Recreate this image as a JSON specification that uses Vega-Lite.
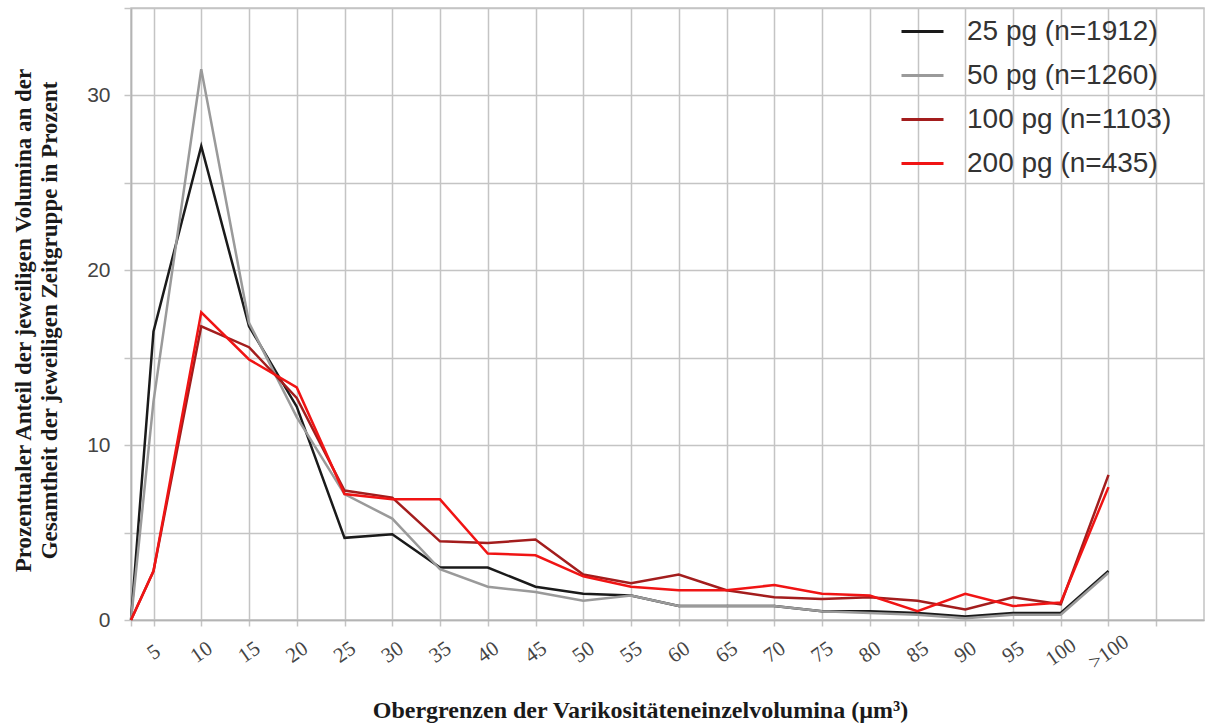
{
  "$schema": "https://vega.github.io/schema/vega-lite/v6.json",
  "width": 1073,
  "height": 612,
  "autosize": {"type": "none"},
  "padding": {"left": 131, "top": 8, "right": 2, "bottom": 106},
  "background": "white",
  "config": {"view": {"stroke": "#c4c4c4", "strokeWidth": 1.5}},
  "data": {
    "values": [
      {"klasse": "0", "grenze": 0, "25 pg (n=1912)": 0, "50 pg (n=1260)": 0, "100 pg (n=1103)": 0, "200 pg (n=435)": 0},
      {"klasse": "5", "grenze": 5, "25 pg (n=1912)": 16.5, "50 pg (n=1260)": 12.5, "100 pg (n=1103)": 2.8, "200 pg (n=435)": 2.8},
      {"klasse": "10", "grenze": 10, "25 pg (n=1912)": 27.1, "50 pg (n=1260)": 31.5, "100 pg (n=1103)": 16.8, "200 pg (n=435)": 17.6},
      {"klasse": "15", "grenze": 15, "25 pg (n=1912)": 16.8, "50 pg (n=1260)": 17.0, "100 pg (n=1103)": 15.6, "200 pg (n=435)": 14.9},
      {"klasse": "20", "grenze": 20, "25 pg (n=1912)": 12.2, "50 pg (n=1260)": 11.6, "100 pg (n=1103)": 12.7, "200 pg (n=435)": 13.3},
      {"klasse": "25", "grenze": 25, "25 pg (n=1912)": 4.7, "50 pg (n=1260)": 7.2, "100 pg (n=1103)": 7.4, "200 pg (n=435)": 7.2},
      {"klasse": "30", "grenze": 30, "25 pg (n=1912)": 4.9, "50 pg (n=1260)": 5.8, "100 pg (n=1103)": 7.0, "200 pg (n=435)": 6.9},
      {"klasse": "35", "grenze": 35, "25 pg (n=1912)": 3.0, "50 pg (n=1260)": 2.9, "100 pg (n=1103)": 4.5, "200 pg (n=435)": 6.9},
      {"klasse": "40", "grenze": 40, "25 pg (n=1912)": 3.0, "50 pg (n=1260)": 1.9, "100 pg (n=1103)": 4.4, "200 pg (n=435)": 3.8},
      {"klasse": "45", "grenze": 45, "25 pg (n=1912)": 1.9, "50 pg (n=1260)": 1.6, "100 pg (n=1103)": 4.6, "200 pg (n=435)": 3.7},
      {"klasse": "50", "grenze": 50, "25 pg (n=1912)": 1.5, "50 pg (n=1260)": 1.1, "100 pg (n=1103)": 2.6, "200 pg (n=435)": 2.5},
      {"klasse": "55", "grenze": 55, "25 pg (n=1912)": 1.4, "50 pg (n=1260)": 1.4, "100 pg (n=1103)": 2.1, "200 pg (n=435)": 1.9},
      {"klasse": "60", "grenze": 60, "25 pg (n=1912)": 0.8, "50 pg (n=1260)": 0.8, "100 pg (n=1103)": 2.6, "200 pg (n=435)": 1.7},
      {"klasse": "65", "grenze": 65, "25 pg (n=1912)": 0.8, "50 pg (n=1260)": 0.8, "100 pg (n=1103)": 1.7, "200 pg (n=435)": 1.7},
      {"klasse": "70", "grenze": 70, "25 pg (n=1912)": 0.8, "50 pg (n=1260)": 0.8, "100 pg (n=1103)": 1.3, "200 pg (n=435)": 2.0},
      {"klasse": "75", "grenze": 75, "25 pg (n=1912)": 0.5, "50 pg (n=1260)": 0.5, "100 pg (n=1103)": 1.2, "200 pg (n=435)": 1.5},
      {"klasse": "80", "grenze": 80, "25 pg (n=1912)": 0.5, "50 pg (n=1260)": 0.4, "100 pg (n=1103)": 1.3, "200 pg (n=435)": 1.4},
      {"klasse": "85", "grenze": 85, "25 pg (n=1912)": 0.4, "50 pg (n=1260)": 0.3, "100 pg (n=1103)": 1.1, "200 pg (n=435)": 0.5},
      {"klasse": "90", "grenze": 90, "25 pg (n=1912)": 0.2, "50 pg (n=1260)": 0.1, "100 pg (n=1103)": 0.6, "200 pg (n=435)": 1.5},
      {"klasse": "95", "grenze": 95, "25 pg (n=1912)": 0.4, "50 pg (n=1260)": 0.3, "100 pg (n=1103)": 1.3, "200 pg (n=435)": 0.8},
      {"klasse": "100", "grenze": 100, "25 pg (n=1912)": 0.4, "50 pg (n=1260)": 0.3, "100 pg (n=1103)": 0.9, "200 pg (n=435)": 1.0},
      {"klasse": ">100", "grenze": 105, "25 pg (n=1912)": 2.8, "50 pg (n=1260)": 2.7, "100 pg (n=1103)": 8.3, "200 pg (n=435)": 7.6}
    ]
  },
  "transform": [
    {"fold": ["25 pg (n=1912)", "50 pg (n=1260)", "100 pg (n=1103)", "200 pg (n=435)"], "as": ["gruppe", "anteil"]}
  ],
  "mark": {"type": "line", "strokeWidth": 2.5, "clip": false},
  "encoding": {
    "x": {
      "field": "grenze",
      "type": "quantitative",
      "scale": {"domain": [0, 5, 115], "range": [0, 22.5, 1073], "nice": false, "zero": false},
      "axis": {
        "values": [0, 5, 10, 15, 20, 25, 30, 35, 40, 45, 50, 55, 60, 65, 70, 75, 80, 85, 90, 95, 100, 105, 110],
        "labelExpr": "datum.value == 105 ? '>100' : ((datum.value == 0 || datum.value == 110) ? '' : datum.label)",
        "labelAngle": -35,
        "labelAlign": "center",
        "labelBaseline": "middle",
        "labelPadding": 26,
        "labelOverlap": false,
        "labelFlush": false,
        "labelFont": "Liberation Serif",
        "labelFontSize": 21,
        "labelColor": "#444444",
        "grid": true,
        "gridColor": "#c4c4c4",
        "gridWidth": 1.5,
        "tickSize": 6,
        "tickColor": "#c4c4c4",
        "tickWidth": 1.5,
        "domainColor": "#b4b4b4",
        "domainWidth": 1.5,
        "title": "Obergrenzen der Varikositäteneinzelvolumina (µm³)",
        "titleFont": "Liberation Serif",
        "titleFontSize": 24,
        "titleFontWeight": "bold",
        "titleColor": "#1a1a1a",
        "titleX": 509,
        "titleY": 97,
        "titleAlign": "center",
        "titleBaseline": "alphabetic"
      }
    },
    "y": {
      "field": "anteil",
      "type": "quantitative",
      "scale": {"domain": [0, 35], "nice": false, "zero": true},
      "axis": {
        "values": [0, 5, 10, 15, 20, 25, 30, 35],
        "labelExpr": "(datum.value % 10 == 0 && datum.value < 35) ? datum.label : ''",
        "labelFont": "Liberation Sans",
        "labelFontSize": 21,
        "labelColor": "#444444",
        "labelPadding": 14,
        "grid": true,
        "gridColor": "#c4c4c4",
        "gridWidth": 1.5,
        "tickSize": 7,
        "tickColor": "#c4c4c4",
        "tickWidth": 1.5,
        "domainColor": "#b4b4b4",
        "domainWidth": 1.5,
        "title": ["Prozentualer Anteil der jeweiligen Volumina an der", "Gesamtheit der jeweiligen Zeitgruppe in Prozent"],
        "titleFont": "Liberation Serif",
        "titleFontSize": 23,
        "titleFontWeight": "bold",
        "titleColor": "#1a1a1a",
        "titleLineHeight": 26,
        "titleAngle": -90,
        "titleX": -108,
        "titleY": 312,
        "titleAlign": "center",
        "titleBaseline": "middle"
      }
    },
    "color": {
      "field": "gruppe",
      "type": "nominal",
      "sort": ["25 pg (n=1912)", "50 pg (n=1260)", "100 pg (n=1103)", "200 pg (n=435)"],
      "scale": {
        "domain": ["25 pg (n=1912)", "50 pg (n=1260)", "100 pg (n=1103)", "200 pg (n=435)"],
        "range": ["#1a1a1a", "#9a9a9a", "#a31d1d", "#f01414"]
      },
      "legend": {
        "orient": "none",
        "legendX": 769,
        "legendY": 1,
        "title": null,
        "padding": 0,
        "symbolType": "stroke",
        "symbolSize": 1764,
        "symbolStrokeWidth": 3,
        "labelFont": "Liberation Sans",
        "labelFontSize": 28,
        "labelColor": "#333333",
        "labelOffset": 22,
        "labelLimit": 400,
        "rowPadding": 7
      }
    }
  }
}
